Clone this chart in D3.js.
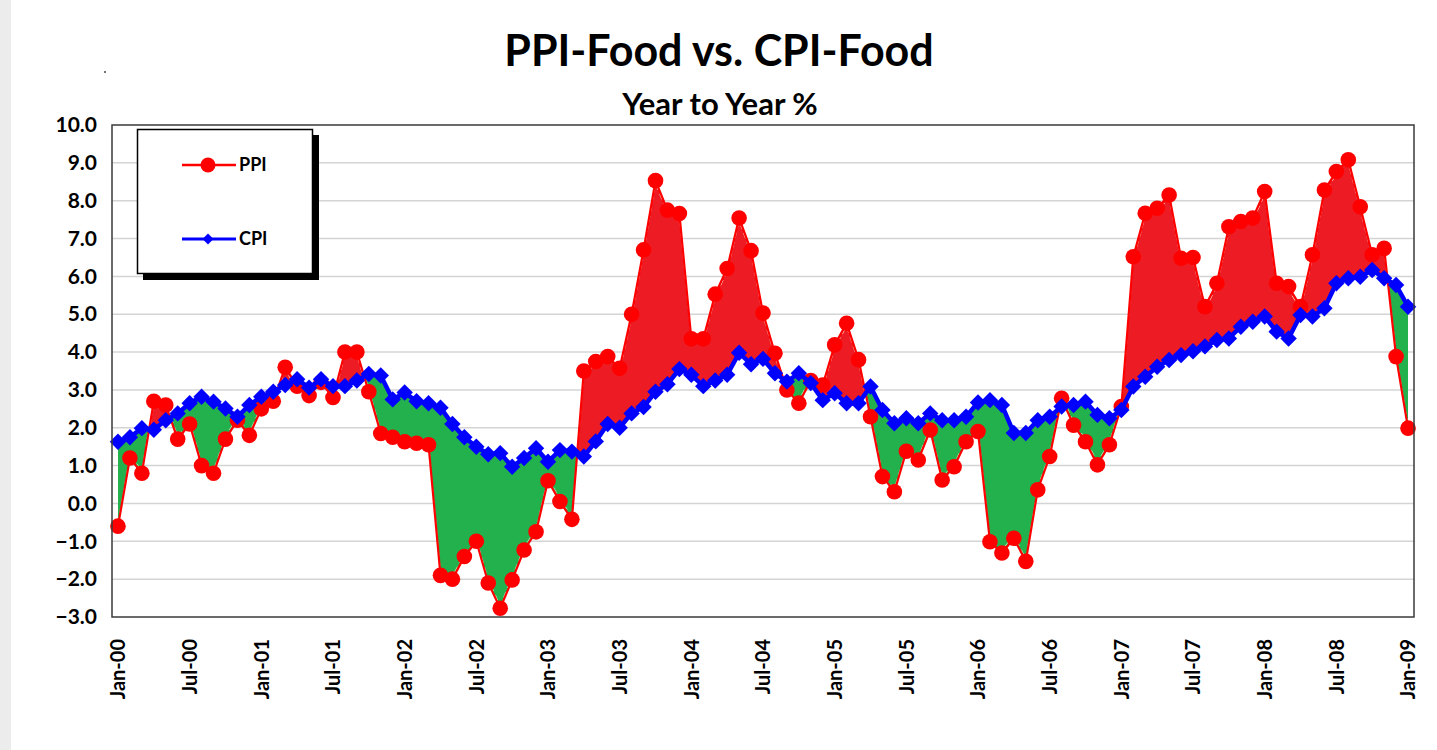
<!DOCTYPE html>
<html>
<head>
<meta charset="utf-8">
<script src="https://cdn.jsdelivr.net/npm/d3@7/dist/d3.min.js"></script>
<style>
  html, body { margin: 0; padding: 0; background: #ffffff; }
  svg { display: block; }
  text { font-family: Lato, "Open Sans", "Liberation Sans", sans-serif; font-weight: bold; fill: #000; }
</style>
</head>
<body>
<svg id="chart" width="1437" height="750"></svg>
<script>
// ---- data ----
const months = (function () {
  const mon = ["Jan","Feb","Mar","Apr","May","Jun","Jul","Aug","Sep","Oct","Nov","Dec"];
  const out = [];
  for (let y = 0; y <= 9; y++) {
    for (let m = 0; m < 12; m++) {
      if (y === 9 && m > 0) break;
      out.push(mon[m] + "-0" + y);
    }
  }
  return out;
})();

const ppiValues = [
  -0.6, 1.2, 0.8, 2.7, 2.6, 1.7, 2.1, 1.0, 0.8, 1.7, 2.2, 1.8,
  2.5, 2.7, 3.6, 3.1, 2.85, 3.2, 2.8, 4.0, 4.0, 2.95, 1.85, 1.75,
  1.63, 1.59, 1.55, -1.9, -2.0, -1.4, -1.0, -2.1, -2.77, -2.02, -1.23, -0.75,
  0.6, 0.05, -0.42, 3.5, 3.75, 3.88, 3.57, 5.0, 6.7, 8.53, 7.75, 7.66,
  4.35, 4.35, 5.53, 6.21, 7.54, 6.68, 5.03, 3.97, 3.0, 2.65, 3.25, 3.13,
  4.19, 4.76, 3.8, 2.29, 0.71, 0.31, 1.38, 1.15, 1.94, 0.62, 0.97, 1.63,
  1.9, -1.01, -1.31, -0.92, -1.53, 0.36, 1.24, 2.78, 2.07, 1.63, 1.02, 1.55,
  2.56, 6.52, 7.67, 7.8, 8.15, 6.48, 6.5, 5.2, 5.82, 7.31, 7.45, 7.54,
  8.24, 5.82, 5.73, 5.2, 6.57, 8.28, 8.77, 9.08, 7.84, 6.57, 6.74, 3.88,
  1.99
];

const cpiValues = [
  1.63, 1.75, 1.99, 1.95, 2.2, 2.38, 2.65, 2.82, 2.69, 2.51, 2.29, 2.6,
  2.82, 2.95, 3.13, 3.28, 3.06, 3.28, 3.1, 3.1, 3.25, 3.42, 3.38, 2.75,
  2.93, 2.7, 2.65, 2.53, 2.1, 1.75, 1.5, 1.3, 1.33, 0.97, 1.2, 1.46,
  1.1, 1.41, 1.37, 1.24, 1.64, 2.1, 2.0, 2.38, 2.55, 2.95, 3.15, 3.55,
  3.4, 3.1, 3.25, 3.4, 3.98, 3.68, 3.82, 3.44, 3.22, 3.44, 3.18, 2.73,
  2.91, 2.65, 2.65, 3.09, 2.47, 2.12, 2.25, 2.12, 2.38, 2.2, 2.2, 2.29,
  2.67, 2.73, 2.6, 1.86, 1.86, 2.2, 2.29, 2.56, 2.6, 2.69, 2.34, 2.25,
  2.47, 3.09, 3.35, 3.61, 3.79, 3.92, 4.02, 4.15, 4.32, 4.36, 4.67, 4.8,
  4.94, 4.54, 4.36, 4.98, 4.94, 5.16, 5.82, 5.95, 5.99, 6.17, 5.95, 5.77,
  5.2
];

const yTicks = [10, 9, 8, 7, 6, 5, 4, 3, 2, 1, 0, -1, -2, -3];
const xTickLabels = months.filter((d, i) => i % 6 === 0);

const titleText = "PPI-Food vs. CPI-Food";
const subtitleText = "Year to Year %";
const seriesNames = ["PPI", "CPI"];

// ---- layout ----
const W = 1437, H = 750;
const plot = { left: 112, right: 1414, top: 125, bottom: 617 };

const svg = d3.select("#chart");

svg.append("rect").attr("x", 0).attr("y", 0).attr("width", W).attr("height", H).attr("fill", "#ffffff");
svg.append("rect").attr("x", 0).attr("y", 0).attr("width", 11).attr("height", H).attr("fill", "#ececec");

const x = d3.scaleBand().domain(months).range([plot.left, plot.right]).paddingInner(0).paddingOuter(0);
const xc = d => x(d) + x.bandwidth() / 2;
const y = d3.scaleLinear().domain([-3, 10]).range([plot.bottom, plot.top]);

const data = months.map((m, i) => ({ m, ppi: ppiValues[i], cpi: cpiValues[i] }));

// gridlines
svg.append("g")
  .selectAll("line")
  .data(yTicks.filter(t => t !== 10 && t !== -3))
  .join("line")
  .attr("x1", plot.left).attr("x2", plot.right)
  .attr("y1", d => y(d)).attr("y2", d => y(d))
  .attr("stroke", "#d4d4d4").attr("stroke-width", 1.5);

// clip paths for fills
const defs = svg.append("defs");
defs.append("clipPath").attr("id", "aboveCpi")
  .append("path")
  .attr("d", d3.area().x(d => xc(d.m)).y0(plot.top - 50).y1(d => y(d.cpi))(data));
defs.append("clipPath").attr("id", "belowCpi")
  .append("path")
  .attr("d", d3.area().x(d => xc(d.m)).y0(d => y(d.cpi)).y1(plot.bottom + 50)(data));

// red fill: PPI above CPI
svg.append("path")
  .attr("d", d3.area().x(d => xc(d.m)).y0(d => y(d.ppi)).y1(plot.bottom + 50)(data))
  .attr("fill", "#ed1c24")
  .attr("clip-path", "url(#aboveCpi)");
// green fill: PPI below CPI
svg.append("path")
  .attr("d", d3.area().x(d => xc(d.m)).y0(plot.top - 50).y1(d => y(d.ppi))(data))
  .attr("fill", "#22b14c")
  .attr("clip-path", "url(#belowCpi)");

// faint dashed outlines of the area series (Excel look)
svg.append("path")
  .attr("d", d3.line().x(d => xc(d.m)).y(d => y(d.ppi) + 3)(data))
  .attr("fill", "none").attr("stroke", "#fff8e0").attr("stroke-width", 1)
  .attr("stroke-dasharray", "6,4").attr("opacity", 0.8)
  .attr("clip-path", "url(#aboveCpi)");
svg.append("path")
  .attr("d", d3.line().x(d => xc(d.m)).y(d => y(d.ppi) - 3)(data))
  .attr("fill", "none").attr("stroke", "#fff8e0").attr("stroke-width", 1)
  .attr("stroke-dasharray", "6,4").attr("opacity", 0.7)
  .attr("clip-path", "url(#belowCpi)");

// PPI line + markers
svg.append("path")
  .attr("d", d3.line().x(d => xc(d.m)).y(d => y(d.ppi))(data))
  .attr("fill", "none").attr("stroke", "#ff0000").attr("stroke-width", 2.2);
svg.append("g").selectAll("circle").data(data).join("circle")
  .attr("cx", d => xc(d.m)).attr("cy", d => y(d.ppi)).attr("r", 7.8)
  .attr("fill", "#ff0000");

// CPI line + diamond markers
svg.append("path")
  .attr("d", d3.line().x(d => xc(d.m)).y(d => y(d.cpi))(data))
  .attr("fill", "none").attr("stroke", "#0000ff").attr("stroke-width", 4.5);
const diamond = d3.symbol().type(d3.symbolSquare).size(135);
svg.append("g").selectAll("path").data(data).join("path")
  .attr("transform", d => `translate(${xc(d.m)},${y(d.cpi)}) rotate(45)`)
  .attr("d", diamond)
  .attr("fill", "#0000ff");

// plot border
svg.append("rect")
  .attr("x", plot.left).attr("y", plot.top)
  .attr("width", plot.right - plot.left).attr("height", plot.bottom - plot.top)
  .attr("fill", "none").attr("stroke", "#3a3a3a").attr("stroke-width", 1.5);

// y axis labels
const yAxis = d3.axisLeft(y).tickValues(yTicks).tickFormat(d3.format(".1f")).tickSize(0).tickPadding(15);
const gy = svg.append("g").attr("transform", `translate(${plot.left},0)`).call(yAxis);
gy.select(".domain").remove();
gy.selectAll("text").style("font-size", "21px").style("font-family", "Lato, 'Open Sans', sans-serif").style("font-weight", "bold").attr("fill", "#000");

// x axis labels (rotated)
const xAxis = d3.axisBottom(x).tickValues(xTickLabels).tickSize(0).tickPadding(0);
const gx = svg.append("g").attr("transform", `translate(0,${plot.bottom})`).call(xAxis);
gx.select(".domain").remove();
gx.selectAll("text")
  .attr("transform", "rotate(-90)")
  .attr("x", -22).attr("y", 0).attr("dy", "0.36em")
  .style("text-anchor", "end")
  .style("font-size", "20px").style("font-family", "Lato, 'Open Sans', sans-serif").style("font-weight", "bold").attr("fill", "#000");

// titles
svg.append("text").attr("x", 719).attr("y", 66).attr("text-anchor", "middle")
  .style("font-size", "43px").text(titleText);
svg.append("text").attr("x", 720).attr("y", 115).attr("text-anchor", "middle")
  .style("font-size", "31px").text(subtitleText);

// small dot in the top-left corner
svg.append("circle").attr("cx", 105).attr("cy", 72).attr("r", 1).attr("fill", "#444");

// legend
const lg = svg.append("g");
lg.append("rect").attr("x", 143).attr("y", 135).attr("width", 176).attr("height", 145).attr("fill", "#000");
lg.append("rect").attr("x", 137.5).attr("y", 129.5).attr("width", 175).attr("height", 144)
  .attr("fill", "#fff").attr("stroke", "#000").attr("stroke-width", 1.5);
// PPI entry
lg.append("line").attr("x1", 182).attr("x2", 236).attr("y1", 165).attr("y2", 165)
  .attr("stroke", "#ff0000").attr("stroke-width", 2.5);
lg.append("circle").attr("cx", 208).attr("cy", 165).attr("r", 7.5).attr("fill", "#ff0000");
lg.append("text").attr("x", 239).attr("y", 171).style("font-size", "18px").text(seriesNames[0]);
// CPI entry
lg.append("line").attr("x1", 182).attr("x2", 236).attr("y1", 239).attr("y2", 239)
  .attr("stroke", "#0000ff").attr("stroke-width", 3);
lg.append("path").attr("transform", "translate(208,239) rotate(45)").attr("d", d3.symbol().type(d3.symbolSquare).size(60)).attr("fill", "#0000ff");
lg.append("text").attr("x", 239).attr("y", 245).style("font-size", "18px").text(seriesNames[1]);
</script>
</body>
</html>
